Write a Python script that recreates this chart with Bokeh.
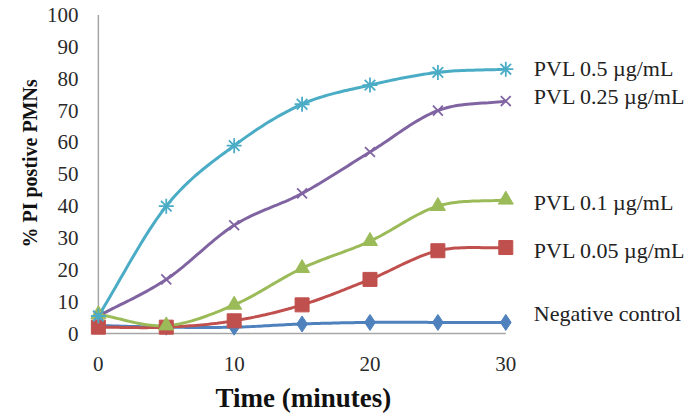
import numpy as np
from bokeh.plotting import figure
from bokeh.models import Range1d, FixedTicker, Label, Title
from bokeh.embed import file_html
from bokeh.resources import INLINE

time_min = [0, 5, 10, 15, 20, 25, 30]
pvl_05 = [5.5, 40, 59, 72, 78, 82, 83]
pvl_025 = [5.5, 17, 34, 44, 57, 70, 73]
pvl_01 = [6, 2.5, 9, 20.5, 29, 40, 42]
pvl_005 = [2, 2, 4, 9, 17, 26, 27]
neg_ctrl = [2.5, 2, 2, 3, 3.5, 3.5, 3.5]
series_names = ["PVL 0.5 µg/mL", "PVL 0.25 µg/mL", "PVL 0.1 µg/mL", "PVL 0.05 µg/mL", "Negative control"]
x_ticks = [0, 10, 20, 30]
y_ticks = [0, 10, 20, 30, 40, 50, 60, 70, 80, 90, 100]

FONT = "Liberation Serif"


def smooth(xs, ys, n=24):
    xs = np.asarray(xs, float)
    ys = np.asarray(ys, float)
    px = np.concatenate([[2 * xs[0] - xs[1]], xs, [2 * xs[-1] - xs[-2]]])
    py = np.concatenate([[2 * ys[0] - ys[1]], ys, [2 * ys[-1] - ys[-2]]])
    ox, oy = [], []
    for i in range(1, len(px) - 2):
        t = np.linspace(0, 1, n, endpoint=(i == len(px) - 3))
        p0x, p1x, p2x, p3x = px[i - 1], px[i], px[i + 1], px[i + 2]
        p0y, p1y, p2y, p3y = py[i - 1], py[i], py[i + 1], py[i + 2]
        t2, t3 = t * t, t * t * t
        ox.extend(0.5 * ((2 * p1x) + (-p0x + p2x) * t + (2 * p0x - 5 * p1x + 4 * p2x - p3x) * t2 + (-p0x + 3 * p1x - 3 * p2x + p3x) * t3))
        oy.extend(0.5 * ((2 * p1y) + (-p0y + p2y) * t + (2 * p0y - 5 * p1y + 4 * p2y - p3y) * t2 + (-p0y + 3 * p1y - 3 * p2y + p3y) * t3))
    return ox, oy


p = figure(output_backend="svg", toolbar_location=None,
           frame_width=603, frame_height=329,
           x_range=Range1d(-0.8, 43.6), y_range=Range1d(-2.5, 100.8),
           min_border_left=87, min_border_top=12, min_border_right=0, min_border_bottom=70)
p.outline_line_color = None
p.background_fill_color = "white"
p.border_fill_color = "white"
p.xgrid.visible = False
p.ygrid.visible = False

for ax in (p.xaxis[0], p.yaxis[0]):
    ax.axis_line_color = None
    ax.major_tick_line_color = None
    ax.minor_tick_line_color = None
    ax.major_tick_out = 0
    ax.major_tick_in = 0
    ax.major_label_text_font = FONT
    ax.major_label_text_font_size = "21px"
    ax.major_label_text_color = "#2a2a2a"

p.xaxis[0].ticker = FixedTicker(ticks=x_ticks)
p.yaxis[0].ticker = FixedTicker(ticks=y_ticks)
p.xaxis[0].major_label_standoff = 15
p.yaxis[0].major_label_standoff = 9

yt = Title(text="% PI postive PMNs", align="left", offset=94,
           text_font=FONT, text_font_style="bold", text_font_size="20px",
           text_color="#111111", standoff=5)
p.add_layout(yt, "left")

xt = Title(text="Time (minutes)", align="left", offset=128,
           text_font=FONT, text_font_style="bold", text_font_size="27px",
           text_color="#111111", standoff=14)
p.add_layout(xt, "below")

# axis lines (Excel style, from 0)
p.segment(x0=[x_ticks[0]], y0=[y_ticks[0]], x1=[x_ticks[-1]], y1=[y_ticks[0]], line_color="#a6a6a6", line_width=1.5)
p.segment(x0=[x_ticks[0]], y0=[y_ticks[0]], x1=[x_ticks[0]], y1=[y_ticks[-1]], line_color="#a6a6a6", line_width=1.5)

colors = ["#4BACC6", "#8064A2", "#9BBB59", "#C0504D", "#4F81BD"]
markers = ["asterisk", "x", "triangle", "square", "diamond"]
sizes = [15, 14, 15, 14, 16]
data = [pvl_05, pvl_025, pvl_01, pvl_005, neg_ctrl]
label_dy = [1, 5, -3, -3, 9]

order = [4, 3, 2, 1, 0]
for i in order:
    sx, sy = smooth(time_min, data[i])
    p.line(sx, sy, line_color=colors[i], line_width=3)
for i in order:
    if markers[i] in ("asterisk", "x"):
        p.scatter(time_min, data[i], marker=markers[i], size=sizes[i], line_color=colors[i], line_width=1.8)
    else:
        p.scatter(time_min, data[i], marker=markers[i], size=sizes[i], fill_color=colors[i], line_color=colors[i])

for i in range(5):
    p.add_layout(Label(x=time_min[-1], y=data[i][-1], x_offset=28, y_offset=label_dy[i],
                       text=series_names[i], text_font=FONT, text_font_size="22px",
                       text_baseline="middle", text_color="#222222"))

open("out.html", "w").write(file_html(p, INLINE))
